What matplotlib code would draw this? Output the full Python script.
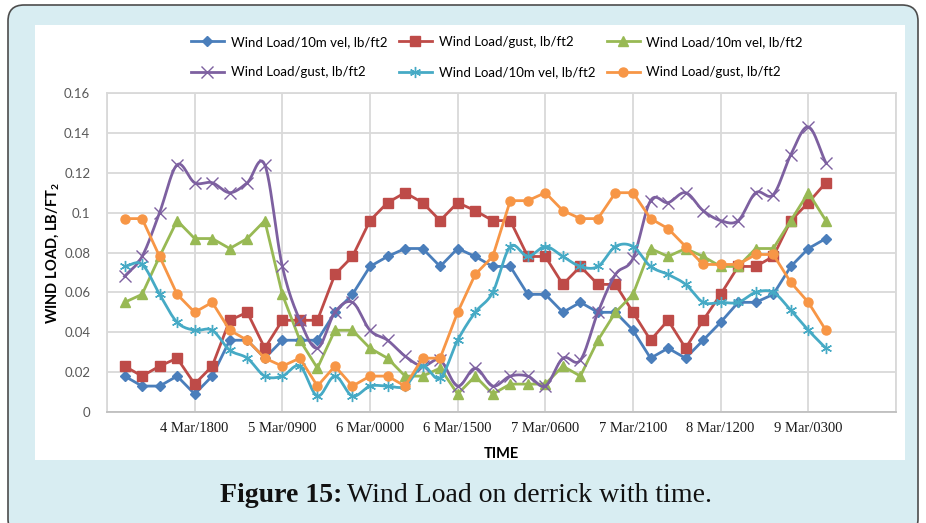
import numpy as np
import matplotlib.pyplot as plt
from matplotlib.patches import FancyBboxPatch, Rectangle

# readings, one point per time step (1..41)
steps = np.arange(1, 42)
tick_pos = [0, 5, 10, 15, 20, 25, 30, 35, 40, 45]
tick_labels = ['', '4 Mar/1800', '5 Mar/0900', '6 Mar/0000', '6 Mar/1500',
               '7 Mar/0600', '7 Mar/2100', '8 Mar/1200', '9 Mar/0300', '']

vel_blue = [0.018, 0.013, 0.013, 0.018, 0.009, 0.018, 0.036, 0.036, 0.027, 0.036,
            0.036, 0.036, 0.050, 0.059, 0.073, 0.078, 0.082, 0.082, 0.073, 0.082,
            0.078, 0.073, 0.073, 0.059, 0.059, 0.050, 0.055, 0.050, 0.050, 0.041,
            0.027, 0.032, 0.027, 0.036, 0.045, 0.055, 0.055, 0.059, 0.073, 0.082, 0.087]
gust_red = [0.023, 0.018, 0.023, 0.027, 0.014, 0.023, 0.046, 0.050, 0.032, 0.046,
            0.046, 0.046, 0.069, 0.078, 0.096, 0.105, 0.110, 0.105, 0.096, 0.105,
            0.101, 0.096, 0.096, 0.078, 0.078, 0.064, 0.073, 0.064, 0.064, 0.050,
            0.036, 0.046, 0.032, 0.046, 0.059, 0.073, 0.073, 0.078, 0.096, 0.105, 0.115]
vel_green = [0.055, 0.059, 0.078, 0.096, 0.087, 0.087, 0.082, 0.087, 0.096, 0.059,
             0.036, 0.022, 0.041, 0.041, 0.032, 0.027, 0.018, 0.018, 0.022, 0.009,
             0.018, 0.009, 0.014, 0.014, 0.014, 0.023, 0.018, 0.036, 0.050, 0.059,
             0.082, 0.078, 0.082, 0.078, 0.073, 0.073, 0.082, 0.082, 0.096, 0.110, 0.096]
gust_purple = [0.068, 0.078, 0.100, 0.124, 0.115, 0.115, 0.110, 0.115, 0.124, 0.073,
               0.046, 0.032, 0.050, 0.055, 0.041, 0.036, 0.028, 0.023, 0.026, 0.013,
               0.022, 0.013, 0.018, 0.018, 0.013, 0.027, 0.026, 0.050, 0.069, 0.077,
               0.106, 0.105, 0.110, 0.101, 0.096, 0.096, 0.110, 0.109, 0.129, 0.143, 0.125]
vel_cyan = [0.073, 0.074, 0.059, 0.045, 0.041, 0.041, 0.031, 0.027, 0.018, 0.018,
            0.023, 0.008, 0.018, 0.008, 0.013, 0.013, 0.013, 0.023, 0.017, 0.036,
            0.050, 0.060, 0.083, 0.078, 0.083, 0.078, 0.073, 0.073, 0.083, 0.083,
            0.073, 0.069, 0.064, 0.055, 0.055, 0.055, 0.060, 0.060, 0.051, 0.041, 0.032]
gust_orange = [0.097, 0.097, 0.078, 0.059, 0.050, 0.055, 0.041, 0.036, 0.027, 0.023,
               0.027, 0.013, 0.023, 0.013, 0.018, 0.018, 0.013, 0.027, 0.027, 0.050,
               0.069, 0.078, 0.106, 0.106, 0.110, 0.101, 0.097, 0.097, 0.110, 0.110,
               0.097, 0.092, 0.083, 0.074, 0.074, 0.074, 0.079, 0.079, 0.065, 0.055, 0.041]


def smooth(x, y, n=12):
    # catmull-rom curve through the points, like excel's smoothed line
    x = np.asarray(x, float)
    y = np.asarray(y, float)
    px = np.concatenate([[2 * x[0] - x[1]], x, [2 * x[-1] - x[-2]]])
    py = np.concatenate([[2 * y[0] - y[1]], y, [2 * y[-1] - y[-2]]])
    xs, ys = [], []
    t = np.linspace(0, 1, n, endpoint=False)
    for i in range(1, len(px) - 2):
        for p, out in ((px, xs), (py, ys)):
            p0, p1, p2, p3 = p[i - 1], p[i], p[i + 1], p[i + 2]
            out.extend(0.5 * (2 * p1 + (-p0 + p2) * t + (2 * p0 - 5 * p1 + 4 * p2 - p3) * t ** 2
                              + (-p0 + 3 * p1 - 3 * p2 + p3) * t ** 3))
    xs.append(x[-1])
    ys.append(y[-1])
    return xs, ys


plt.rcParams['mathtext.default'] = 'regular'
fig = plt.figure(figsize=(9.26, 5.23), dpi=100)

# page background with rounded frame
bg = fig.add_axes([0, 0, 1, 1])
bg.set_xlim(0, 926)
bg.set_ylim(523, 0)
bg.axis('off')
bg.add_patch(FancyBboxPatch((8, 5), 910, 530, boxstyle='round,pad=0,rounding_size=16',
                            facecolor='#d8edf2', edgecolor='#4d4d4d', lw=1.2))
bg.add_patch(Rectangle((35, 25), 870, 435, facecolor='white', edgecolor='none'))
bg.text(342, 495, 'Figure 15:', ha='right', va='center', fontsize=20,
        fontweight='bold', family='Liberation Serif', color='#111111')
bg.text(347, 495, 'Wind Load on derrick with time.', ha='left', va='center',
        fontsize=20, family='Liberation Serif', color='#111111')

ax = fig.add_axes([107 / 926, 1 - 412 / 523, (896 - 107) / 926, (412 - 93) / 523])
ax.set_facecolor('white')

lw = 2
h_blue, = ax.plot(steps, vel_blue, color='#4a7ebb', lw=lw, marker='D', ms=5.5,
                  label='Wind Load/10m vel, lb/ft2')
h_red, = ax.plot(steps, gust_red, color='#be4b48', lw=lw, marker='s', ms=6.5,
                 label='Wind Load/gust, lb/ft2')
h_green, = ax.plot(steps, vel_green, color='#98b954', lw=lw, marker='^', ms=7.5,
                   label='Wind Load/10m vel, lb/ft2')
sx, sy = smooth(steps, gust_purple)
ax.plot(sx, sy, color='#7d60a0', lw=lw)
ax.plot(steps, gust_purple, ls='none', color='#7d60a0', marker='x', ms=8, mew=1)
h_purple, = ax.plot([], [], color='#7d60a0', lw=lw, marker='x', ms=8, mew=1,
                    label='Wind Load/gust, lb/ft2')
sx, sy = smooth(steps, vel_cyan)
ax.plot(sx, sy, color='#46aac5', lw=lw)
ax.plot(steps, vel_cyan, ls='none', color='#46aac5', marker=(6, 2, 0), ms=8, mew=1)
h_cyan, = ax.plot([], [], color='#46aac5', lw=lw, marker=(6, 2, 0), ms=8, mew=1,
                  label='Wind Load/10m vel, lb/ft2')
h_orange, = ax.plot(steps, gust_orange, color='#f79646', lw=lw, marker='o', ms=6.5,
                    label='Wind Load/gust, lb/ft2')

ax.set_xlim(0, 45)
ax.set_ylim(0, 0.16)
ax.set_xticks(tick_pos)
ax.set_xticklabels(tick_labels, family='Liberation Serif', fontsize=10.5, color='#1a1a1a')
ax.set_yticks(np.arange(0, 0.161, 0.02))
ax.set_yticklabels(['0', '0.02', '0.04', '0.06', '0.08', '0.1', '0.12', '0.14', '0.16'],
                   family='Lato', fontsize=9.5, color='#595959')
ax.tick_params(length=0, pad=7)
ax.tick_params(axis='y', pad=12)
ax.grid(color='#d9d9d9', lw=1.3)
ax.set_axisbelow(True)
for s in ax.spines.values():
    s.set_color('#d9d9d9')
    s.set_linewidth(1.3)
ax.spines['bottom'].set_color('#bfbfbf')

ax.set_ylabel('WIND LOAD, LB/FT$_2$', fontsize=10.5, fontweight='bold', family='Lato',
              labelpad=2)
ax.set_xlabel('TIME', fontsize=10.5, fontweight='bold', family='Lato', labelpad=9)

handles = [h_blue, h_purple, h_red, h_cyan, h_green, h_orange]
fig.legend(handles=handles, labels=[h.get_label() for h in handles], ncol=3,
           loc='center', bbox_to_anchor=(497 / 926, 1 - 57 / 523), frameon=False,
           prop={'family': 'Lato', 'size': 9.5}, handlelength=2.5, labelspacing=1.4,
           columnspacing=0.9, handletextpad=0.5)

fig.savefig('out.png', dpi=100)
